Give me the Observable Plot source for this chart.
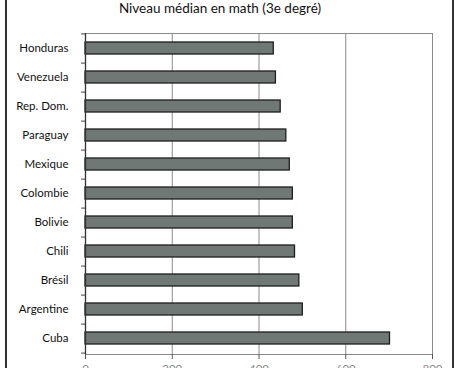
<!DOCTYPE html>
<html>
<head>
<meta charset="utf-8">
<script src="https://cdn.jsdelivr.net/npm/d3@7"></script>
<script src="https://cdn.jsdelivr.net/npm/@observablehq/plot@0.6"></script>
<style>
  html, body { margin: 0; padding: 0; background: #fff; overflow: hidden; }
  #wrap { position: relative; width: 463px; height: 368px; overflow: hidden; }
  #title { position: absolute; left: 0; top: 0; width: 440px; height: 20px; text-align: center;
           font-family: Lato, sans-serif; font-size: 13.5px; line-height: 16px; color: #111; }
  #chart { position: absolute; left: 0; top: 20px; }
  #frame { position: absolute; left: 5px; top: 0; width: 445px; height: 368px;
           border-left: 2px solid #333; border-right: 2px solid #333; pointer-events: none; }
</style>
</head>
<body>
<div id="wrap">
  <div id="title">Niveau médian en math (3e degré)</div>
  <div id="chart"></div>
  <div id="frame"></div>
</div>
<script>
const countries = ["Honduras", "Venezuela", "Rep. Dom.", "Paraguay", "Mexique", "Colombie", "Bolivie", "Chili", "Brésil", "Argentine", "Cuba"];
const values = [434, 439, 450, 463, 471, 478, 478, 483, 493, 501, 702];
const xTicks = [0, 200, 400, 600, 800];

const data = countries.map((c, i) => ({country: c, value: values[i]}));

const width = 463, height = 360;
const marginTop = 13, marginBottom = 26, marginLeft = 85, marginRight = 31;
const step = (height - marginTop - marginBottom) / countries.length;

const chart = Plot.plot({
  width, height, marginTop, marginBottom, marginLeft, marginRight,
  style: {fontFamily: "Lato, sans-serif", fontSize: "11.5px", color: "#111", background: "#fff"},
  x: {domain: [0, 800], ticks: xTicks, tickSize: 5, tickPadding: 5, label: null},
  y: {domain: countries, paddingInner: 0.58, paddingOuter: 0.29, align: 0.5, label: null, tickSize: 0, tickPadding: 17},
  marks: [
    Plot.ruleX(xTicks.slice(1), {stroke: "#8a8a8a", strokeWidth: 1, strokeOpacity: 1}),
    Plot.frame({stroke: "#8a8a8a", strokeWidth: 1}),
    Plot.barX(data, {y: "country", x: "value", fill: "#6f7875", stroke: "#1e1e1e", strokeWidth: 1.3}),
    Plot.ruleY(countries, {x1: -9, x2: 0, dy: step / 2, stroke: "#444", strokeWidth: 1, clip: false}),
    Plot.ruleY(countries.slice(0, 1), {x1: -9, x2: 0, dy: -step / 2, stroke: "#444", strokeWidth: 1, clip: false}),
    Plot.ruleX([0], {stroke: "#333", strokeWidth: 1.3}),
    Plot.axisX({ticks: xTicks, tickSize: 5, tickPadding: 5, stroke: "#555", fill: "#888", label: null}),
    Plot.axisY({tickSize: 0, tickPadding: 17, label: null, fill: "#111"})
  ]
});
document.getElementById("chart").appendChild(chart);
</script>
</body>
</html>
